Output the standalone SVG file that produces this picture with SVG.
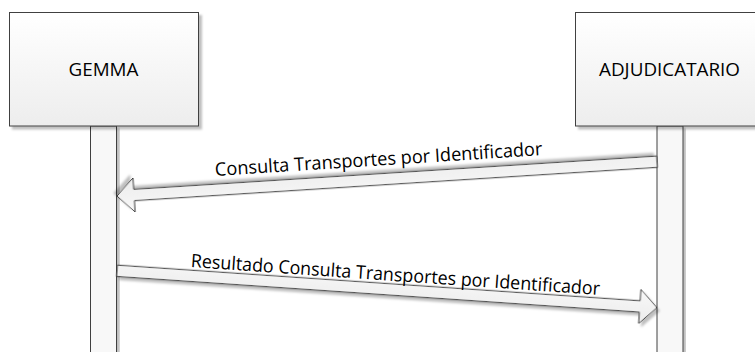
<svg xmlns="http://www.w3.org/2000/svg" width="755" height="352" viewBox="0 0 755 352">
  <defs>
    <linearGradient id="boxFill" x1="0" y1="0" x2="0" y2="1">
      <stop offset="0" stop-color="#ffffff"/>
      <stop offset="1" stop-color="#ededed"/>
    </linearGradient>
    <linearGradient id="arrowFill" x1="0" y1="0" x2="0" y2="1">
      <stop offset="0" stop-color="#f8f8f8"/>
      <stop offset="1" stop-color="#ececec"/>
    </linearGradient>
    <filter id="shadow" x="-5%" y="-5%" width="115%" height="130%">
      <feDropShadow dx="3" dy="3" stdDeviation="1.2" flood-color="#000000" flood-opacity="0.25"/>
    </filter>
  </defs>
  <style>
    .box { fill: url(#boxFill); stroke: #404040; stroke-width: 1; filter: url(#shadow); }
    .life { fill: #f8f8f8; stroke: #404040; stroke-width: 1; filter: url(#shadow); }
    .arrow { fill: url(#arrowFill); stroke: #333333; stroke-width: 1; stroke-linejoin: miter; filter: url(#shadow); }
    .label { font-family: "Open Sans", "Noto Sans", "Liberation Sans", sans-serif; font-size: 18.5px; fill: #000000; text-anchor: middle; }
  </style>
  <rect width="755" height="352" fill="#ffffff"/>

  <g id="node-gemma">
    <rect class="life" x="90.5" y="126" width="26" height="240"/>
    <rect class="box" x="9.5" y="12.5" width="189" height="113.5"/>
    <text class="label" x="103.5" y="76" textLength="70" lengthAdjust="spacingAndGlyphs">GEMMA</text>
  </g>

  <g id="node-adjudicatario">
    <rect class="life" x="657" y="126" width="26" height="240"/>
    <rect class="box" x="575.5" y="12.5" width="190" height="113.5"/>
    <text class="label" x="669.5" y="76" textLength="141" lengthAdjust="spacingAndGlyphs">ADJUDICATARIO</text>
  </g>

  <g id="connectors">
    <g id="msg-consulta">
      <polygon class="arrow" transform="translate(657,161.7) rotate(176.36)" points="0,-5.7 524,-5.7 524,-17 541,0 524,17 524,5.7 0,5.7"/>
      <text class="label" transform="translate(379,165.5) rotate(-3.64)" x="0" y="0" textLength="328" lengthAdjust="spacingAndGlyphs">Consulta Transportes por Identificador</text>
    </g>
    <g id="msg-resultado">
      <polygon class="arrow" transform="translate(117,270.8) rotate(3.9)" points="0,-5.7 524,-5.7 524,-17 541,0 524,17 524,5.7 0,5.7"/>
      <text class="label" transform="translate(395,281) rotate(3.9)" x="0" y="0" textLength="410" lengthAdjust="spacingAndGlyphs">Resultado Consulta Transportes por Identificador</text>
    </g>
  </g>
</svg>
